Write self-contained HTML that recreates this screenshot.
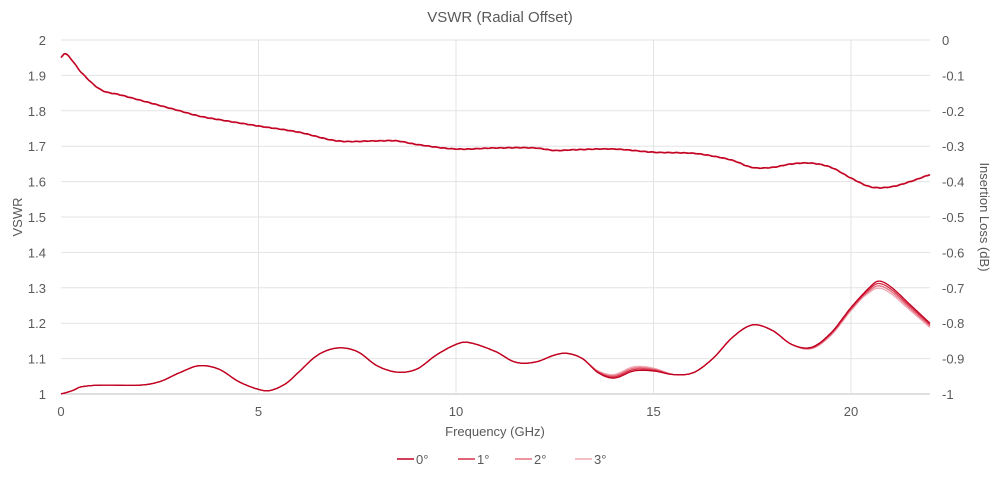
<!DOCTYPE html>
<html><head><meta charset="utf-8"><style>
body{margin:0;background:#fff;}
text{font-family:"Liberation Sans",sans-serif;fill:#595959;}
</style></head><body>
<svg id="s" width="1000" height="477" xmlns="http://www.w3.org/2000/svg">
<rect width="1000" height="477" fill="#fff"/>
<g id="grid"></g>
<text x="500" y="22" font-size="15" text-anchor="middle">VSWR (Radial Offset)</text>
<text x="22" y="217" font-size="13" text-anchor="middle" transform="rotate(-90 22 217)">VSWR</text>
<text x="980" y="217" font-size="13" text-anchor="middle" transform="rotate(90 980 217)">Insertion Loss (dB)</text>
<text x="495" y="436" font-size="13" text-anchor="middle">Frequency (GHz)</text>
<g id="curves"></g>
<g font-size="13">
<line x1="397" y1="459" x2="414" y2="459" stroke="#c00020" stroke-width="1.5"/><text x="416" y="464">0°</text>
<line x1="458" y1="459" x2="475" y2="459" stroke="#d8304a" stroke-width="1.5"/><text x="477" y="464">1°</text>
<line x1="515" y1="459" x2="532" y2="459" stroke="#e57080" stroke-width="1.5"/><text x="534" y="464">2°</text>
<line x1="575" y1="459" x2="592" y2="459" stroke="#f0a8b4" stroke-width="1.5"/><text x="594" y="464">3°</text>
</g>
</svg>
<script>
(function(){
const NS="http://www.w3.org/2000/svg";
const X=f=>61+39.5*f, Y=v=>394-354*(v-1);
const g=document.getElementById('grid');
function el(p,t,a,txt){const e=document.createElementNS(NS,t);for(const k in a)e.setAttribute(k,a[k]);if(txt!=null)e.textContent=txt;p.appendChild(e);return e;}
for(let i=0;i<=10;i++){const v=1+i/10,y=Y(v);
 el(g,'line',{x1:61,x2:930,y1:y,y2:y,stroke:i==0?'#bfbfbf':'#e3e3e3','stroke-width':1});
 el(g,'text',{x:46,y:y+5,'font-size':13,'text-anchor':'end'},(i==0?'1':i==10?'2':v.toFixed(1)));
 el(g,'text',{x:942,y:y+5,'font-size':13},(i==10?'0':i==0?'-1':(-(10-i)/10).toFixed(1)));}
for(let f=0;f<=20;f+=5){const x=X(f);
 if(f>0)el(g,'line',{x1:x,x2:x,y1:40,y2:394,stroke:'#e3e3e3'});
 el(g,'text',{x:x,y:416,'font-size':13,'text-anchor':'middle'},f);}
const upper=[[0,1.95],[0.1,1.962],[0.3,1.94],[0.5,1.91],[1,1.86],[1.5,1.845],[2,1.83],[3,1.80],[3.5,1.785],[4,1.775],[5,1.757],[6,1.74],[7,1.715],[8,1.715],[8.5,1.715],[9,1.705],[10,1.692],[11,1.695],[12,1.695],[12.5,1.688],[13,1.69],[14,1.692],[15,1.683],[16,1.68],[16.5,1.672],[17,1.66],[17.5,1.64],[18,1.64],[18.5,1.65],[19,1.652],[19.5,1.64],[20,1.61],[20.5,1.585],[21,1.585],[21.5,1.60],[22,1.62]];
const lower=[[0,1.0],[0.3,1.01],[0.5,1.02],[1,1.025],[2,1.025],[2.5,1.035],[3,1.06],[3.5,1.08],[4,1.07],[4.5,1.035],[5,1.013],[5.3,1.01],[5.7,1.03],[6,1.06],[6.5,1.11],[7,1.13],[7.5,1.12],[8,1.08],[8.5,1.062],[9,1.07],[9.5,1.11],[10,1.14],[10.3,1.146],[11,1.12],[11.5,1.09],[12,1.09],[12.5,1.11],[12.8,1.115],[13.2,1.1],[13.6,1.06],[14,1.045],[14.5,1.065],[15,1.065],[15.5,1.055],[16,1.06],[16.5,1.1],[17,1.16],[17.5,1.195],[18,1.18],[18.5,1.14],[19,1.13],[19.5,1.17],[20,1.24],[20.5,1.3],[20.7,1.315],[21,1.3],[21.5,1.25],[22,1.2]];
function interp(arr,f){const n=arr.length;
 for(let i=1;i<n;i++)if(f<=arr[i][0]){
  const p1=arr[i-1],p2=arr[i],p0=arr[Math.max(0,i-2)],p3=arr[Math.min(n-1,i+1)];
  const h=p2[0]-p1[0],t=(f-p1[0])/h;
  const m1=(p2[1]-p0[1])/(p2[0]-p0[0]||1)*h, m2=(p3[1]-p1[1])/(p3[0]-p1[0]||1)*h;
  const t2=t*t,t3=t2*t;
  return (2*t3-3*t2+1)*p1[1]+(t3-2*t2+t)*m1+(-2*t3+3*t2)*p2[1]+(t3-t2)*m2;}
 return arr[n-1][1];}
const cols=['#f0a8b4','#e57080','#d8304a','#c00020'];
const c=document.getElementById('curves');
cols.forEach((col,k)=>{const off=3-k;
 [upper,lower].forEach((arr,j)=>{let d='';
  for(let f=0;f<=22.001;f+=0.04){let v=interp(arr,f);
   if(j==1){
    if(f>13.3&&f<15.5)v+=off*0.004*Math.sin((f-13.3)/2.2*Math.PI);
    if(f>18.5)v+=(off-1.5)*0.003*Math.sin((f-18.5)/3.5*Math.PI)*-1;
    if(f>20.3)v-=off*0.004*Math.min(1,(f-20.3)/0.4);
   }
   if(j==0)v+=0.0012*Math.sin(f*31+k);
   d+=(d?'L':'M')+X(f).toFixed(1)+' '+Y(v).toFixed(1);}
  el(c,'path',{d:d,fill:'none',stroke:col,'stroke-width':1.3});});});
})();
</script>
</body></html>
